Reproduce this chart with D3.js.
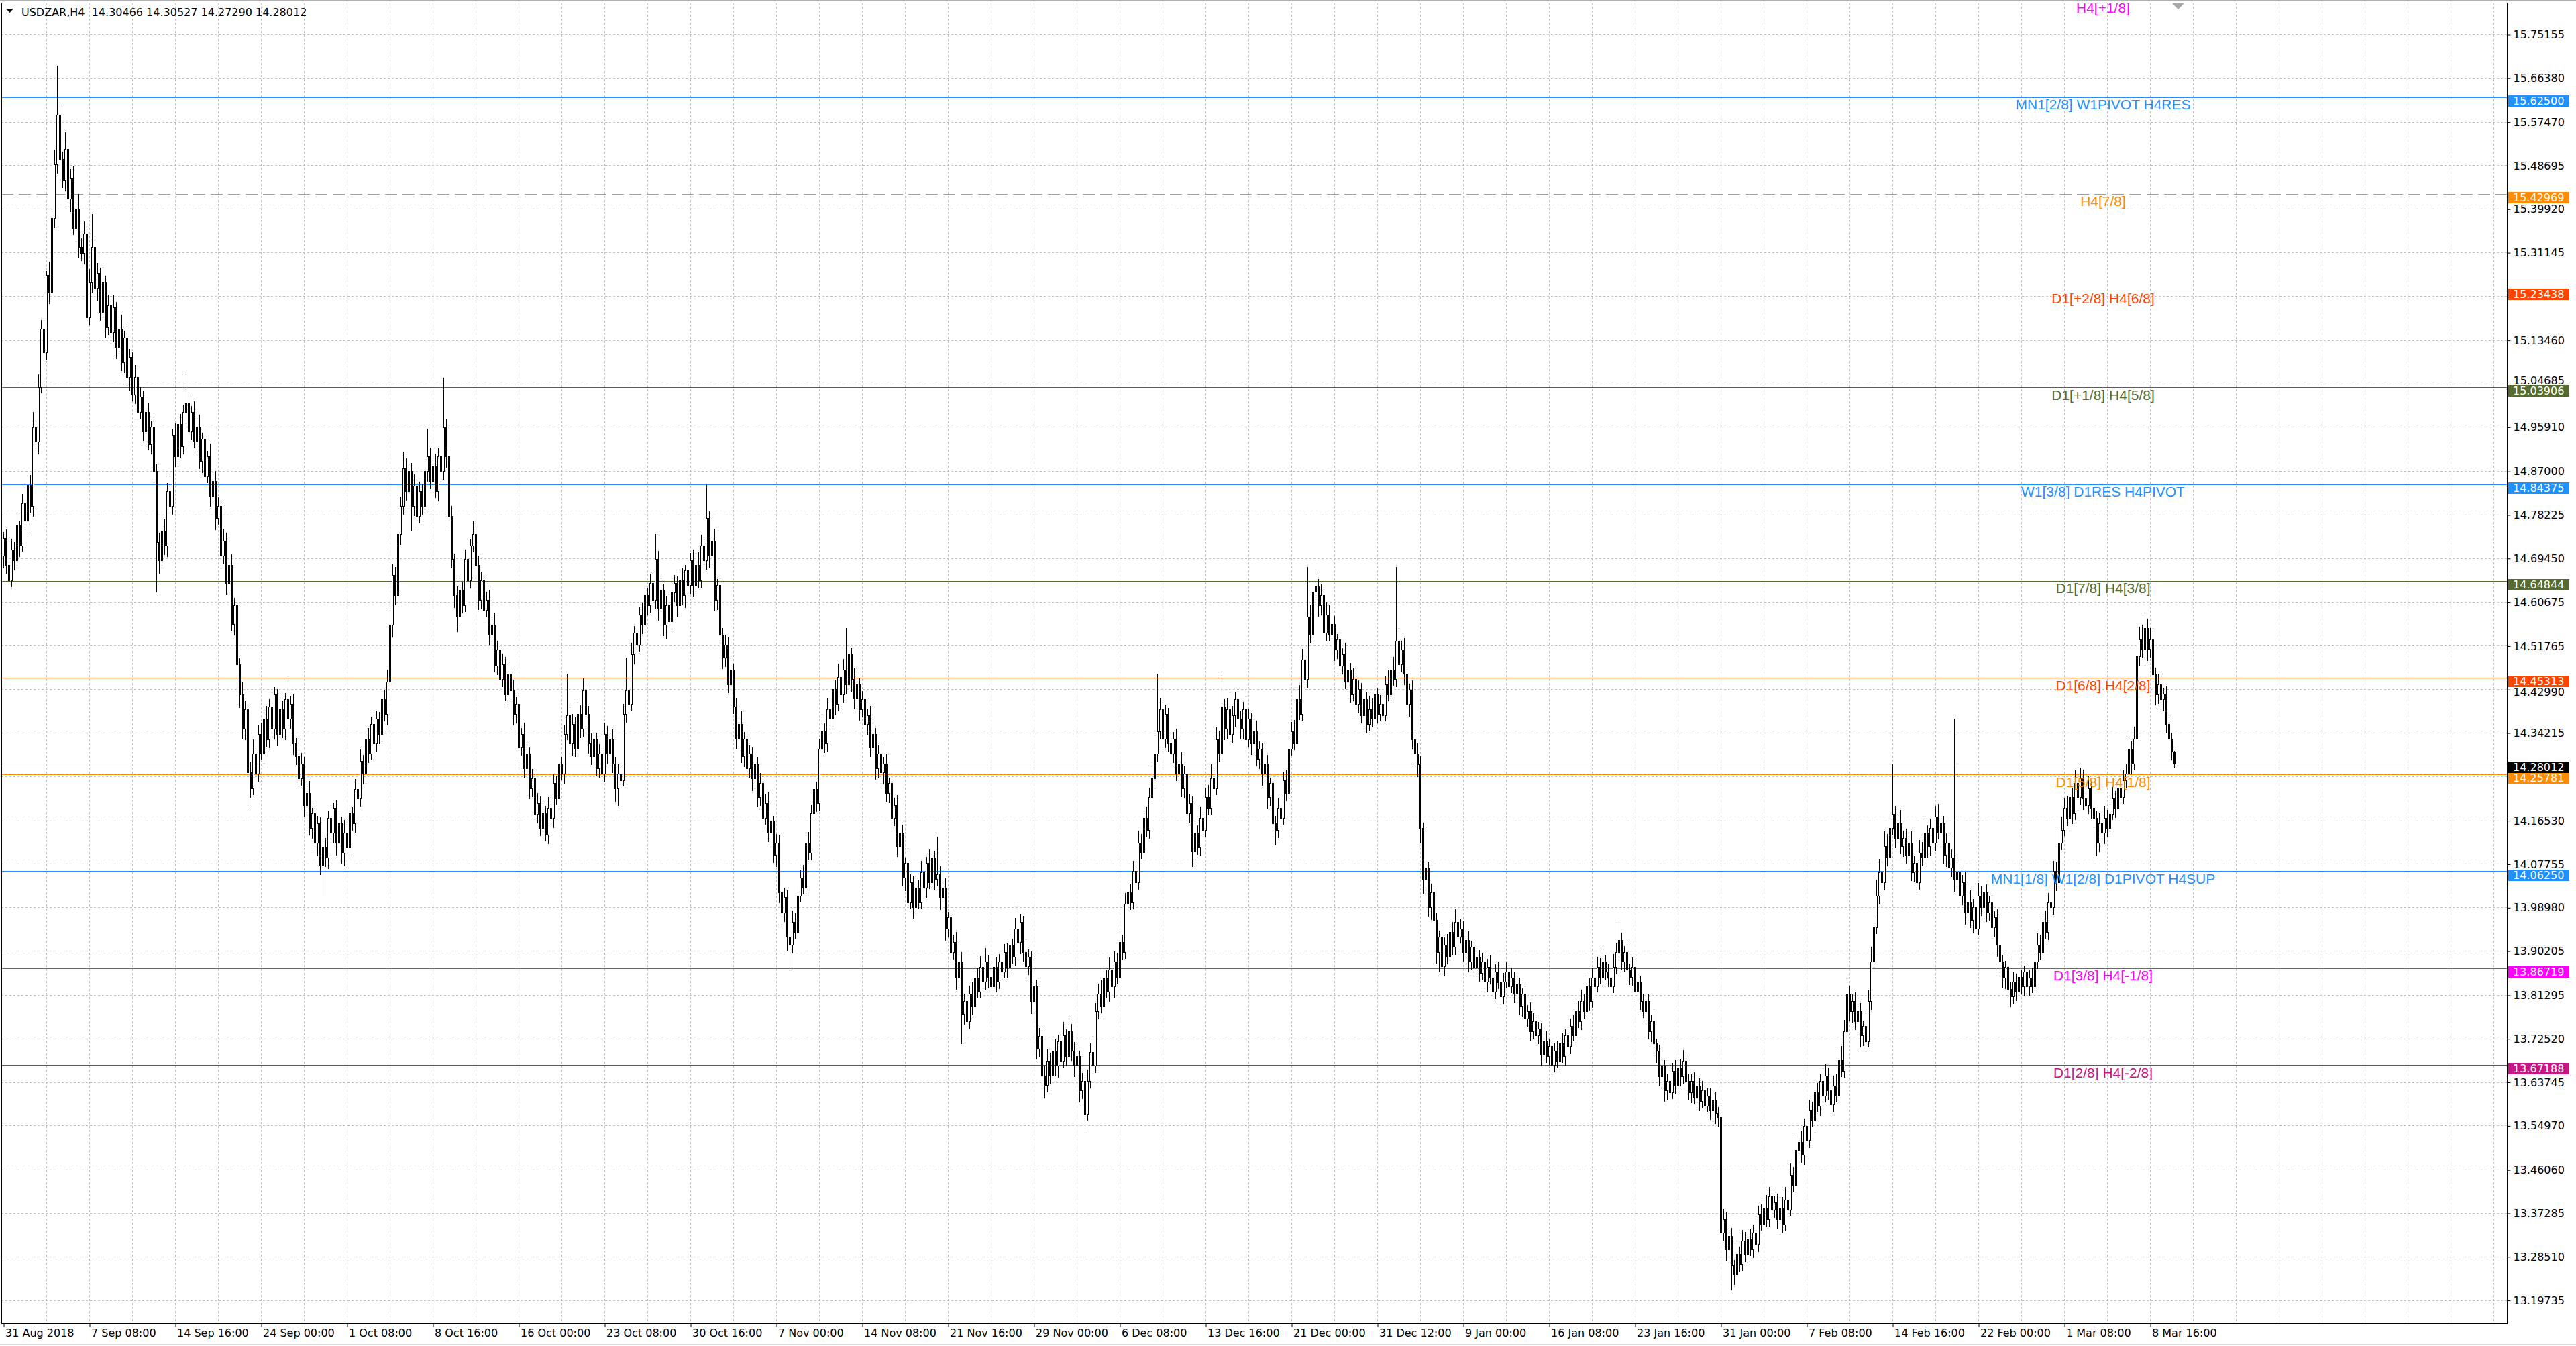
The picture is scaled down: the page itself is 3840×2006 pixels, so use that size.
<!DOCTYPE html>
<html><head><meta charset="utf-8">
<script src="https://cdn.jsdelivr.net/npm/d3@7"></script>
<style>html,body{margin:0;padding:0;background:#fff;overflow:hidden}svg{display:block}</style>
</head><body>
<script>
// ---------------- DATA ----------------
const chartTitle = "USDZAR,H4  14.30466 14.30527 14.27290 14.28012";
const firstOpen = 14.700;
// H4 closes, one per bar (open of each bar = previous close)
const closes = [
14.735,14.680,14.650,14.712,14.690,14.760,14.720,14.805,14.770,14.842,
14.800,14.958,14.930,15.040,15.157,15.110,15.265,15.230,15.380,15.489,
15.589,15.500,15.456,15.520,15.420,15.460,15.360,15.400,15.323,15.310,
15.350,15.180,15.250,15.323,15.240,15.270,15.191,15.250,15.160,15.205,
15.150,15.200,15.120,15.157,15.090,15.140,15.060,15.100,15.025,15.060,
14.990,15.020,14.950,14.990,14.925,14.960,14.870,14.727,14.690,14.750,
14.720,14.830,14.800,14.942,14.900,14.965,14.920,14.990,15.008,14.950,
14.990,14.930,14.960,14.890,14.935,14.860,14.900,14.820,14.850,14.776,
14.800,14.700,14.730,14.644,14.680,14.561,14.600,14.480,14.420,14.350,
14.390,14.262,14.230,14.300,14.260,14.340,14.300,14.370,14.329,14.395,
14.350,14.420,14.340,14.390,14.350,14.410,14.370,14.400,14.320,14.295,
14.250,14.280,14.196,14.220,14.150,14.180,14.120,14.160,14.075,14.110,
14.090,14.170,14.140,14.190,14.120,14.160,14.100,14.140,14.110,14.180,
14.160,14.229,14.210,14.285,14.260,14.330,14.300,14.360,14.320,14.370,
14.340,14.410,14.380,14.445,14.560,14.660,14.620,14.743,14.800,14.876,
14.830,14.870,14.800,14.840,14.780,14.830,14.800,14.870,14.900,14.850,
14.880,14.830,14.900,14.870,14.958,14.900,14.780,14.693,14.620,14.577,
14.630,14.600,14.693,14.650,14.720,14.743,14.680,14.610,14.650,14.590,
14.610,14.540,14.560,14.478,14.510,14.450,14.480,14.420,14.460,14.428,
14.380,14.400,14.312,14.340,14.270,14.300,14.230,14.250,14.179,14.200,
14.150,14.180,14.136,14.190,14.170,14.240,14.210,14.279,14.260,14.340,
14.378,14.320,14.360,14.310,14.380,14.350,14.428,14.380,14.320,14.295,
14.330,14.270,14.300,14.260,14.340,14.300,14.329,14.280,14.230,14.260,
14.246,14.380,14.428,14.400,14.500,14.544,14.520,14.580,14.560,14.620,
14.600,14.644,14.610,14.693,14.594,14.630,14.560,14.600,14.567,14.625,
14.644,14.600,14.650,14.620,14.670,14.640,14.690,14.640,14.680,14.650,
14.720,14.690,14.776,14.700,14.730,14.610,14.640,14.540,14.494,14.520,
14.440,14.470,14.395,14.330,14.360,14.295,14.330,14.270,14.300,14.250,
14.279,14.212,14.240,14.170,14.200,14.140,14.163,14.096,14.120,14.020,
13.980,14.010,13.930,13.914,13.960,13.940,14.013,14.050,14.030,14.120,
14.100,14.180,14.229,14.200,14.310,14.345,14.320,14.390,14.370,14.430,
14.400,14.455,14.420,14.470,14.440,14.500,14.450,14.411,14.440,14.390,
14.410,14.360,14.378,14.312,14.340,14.270,14.300,14.262,14.280,14.220,
14.240,14.170,14.196,14.113,14.140,14.050,14.080,14.000,14.040,13.990,
14.030,14.000,14.060,14.030,14.080,14.040,14.090,14.047,14.057,14.010,
14.030,13.947,13.970,13.900,13.920,13.850,13.881,13.775,13.800,13.760,
13.815,13.790,13.848,13.820,13.870,13.840,13.881,13.850,13.831,13.870,
13.840,13.881,13.860,13.900,13.870,13.914,13.890,13.947,13.920,13.960,
13.900,13.871,13.890,13.800,13.830,13.705,13.730,13.650,13.632,13.680,
13.650,13.700,13.670,13.720,13.680,13.732,13.690,13.740,13.700,13.670,
13.690,13.620,13.639,13.573,13.640,13.698,13.670,13.780,13.815,13.790,
13.848,13.820,13.864,13.830,13.881,13.850,13.920,13.900,13.997,14.020,
14.000,14.063,14.040,14.120,14.100,14.170,14.146,14.212,14.250,14.300,
14.345,14.390,14.330,14.380,14.320,14.300,14.330,14.260,14.279,14.230,
14.260,14.180,14.200,14.103,14.140,14.110,14.170,14.146,14.212,14.190,
14.250,14.230,14.329,14.300,14.395,14.350,14.390,14.340,14.378,14.410,
14.370,14.350,14.390,14.329,14.370,14.320,14.345,14.290,14.310,14.260,
14.280,14.212,14.240,14.160,14.146,14.190,14.170,14.246,14.220,14.310,
14.345,14.320,14.410,14.380,14.490,14.450,14.577,14.540,14.627,14.637,
14.600,14.620,14.544,14.580,14.540,14.561,14.510,14.530,14.478,14.500,
14.445,14.470,14.420,14.450,14.400,14.430,14.378,14.410,14.360,14.390,
14.370,14.420,14.380,14.400,14.378,14.440,14.420,14.470,14.450,14.527,
14.480,14.510,14.461,14.400,14.429,14.329,14.300,14.279,14.150,14.047,
14.070,13.990,14.020,13.964,13.900,13.930,13.871,13.914,13.890,13.940,
13.910,13.960,13.930,13.947,13.900,13.924,13.881,13.910,13.870,13.890,
13.858,13.880,13.840,13.870,13.848,13.820,13.860,13.838,13.810,13.840,
13.860,13.831,13.848,13.815,13.835,13.790,13.815,13.765,13.780,13.740,
13.760,13.732,13.745,13.692,13.720,13.690,13.710,13.672,13.700,13.680,
13.715,13.690,13.732,13.710,13.750,13.732,13.781,13.760,13.800,13.780,
13.831,13.800,13.848,13.830,13.870,13.850,13.881,13.860,13.848,13.830,
13.870,13.900,13.924,13.880,13.900,13.864,13.850,13.870,13.821,13.840,
13.800,13.781,13.800,13.740,13.760,13.715,13.700,13.649,13.670,13.620,
13.640,13.616,13.660,13.630,13.665,13.649,13.680,13.640,13.616,13.640,
13.606,13.630,13.599,13.620,13.590,13.610,13.580,13.600,13.575,13.566,
13.334,13.360,13.300,13.327,13.267,13.250,13.290,13.270,13.317,13.290,
13.320,13.300,13.334,13.310,13.370,13.350,13.384,13.360,13.407,13.380,
13.395,13.360,13.384,13.350,13.400,13.380,13.450,13.430,13.500,13.516,
13.490,13.549,13.520,13.580,13.560,13.616,13.590,13.640,13.610,13.650,
13.620,13.592,13.630,13.610,13.682,13.660,13.740,13.815,13.780,13.800,
13.760,13.781,13.732,13.750,13.720,13.800,13.881,13.950,14.013,14.060,
14.040,14.113,14.090,14.150,14.179,14.130,14.160,14.113,14.130,14.096,
14.120,14.060,14.080,14.040,14.100,14.090,14.140,14.113,14.150,14.120,
14.173,14.140,14.160,14.096,14.120,14.070,14.090,14.047,14.060,14.013,
14.040,13.980,14.000,13.964,13.990,13.947,14.013,13.990,14.020,13.980,
14.000,13.950,13.970,13.914,13.880,13.848,13.870,13.825,13.810,13.840,
13.820,13.850,13.831,13.860,13.830,13.848,13.830,13.880,13.914,13.900,
13.960,13.940,14.000,13.990,14.063,14.040,14.120,14.146,14.190,14.170,
14.212,14.180,14.240,14.212,14.250,14.210,14.196,14.230,14.190,14.170,
14.120,14.160,14.140,14.170,14.150,14.179,14.210,14.190,14.230,14.212,
14.246,14.260,14.310,14.280,14.330,14.497,14.530,14.510,14.554,14.511,
14.530,14.460,14.420,14.440,14.410,14.421,14.360,14.330,14.30466,14.28012
];
// distance from body top to the high, per bar
const upperWicks = [
0.012,0.018,0.009,0.022,0.015,0.028,0.010,0.019,0.035,0.014,
0.020,0.031,0.012,0.025,0.018,0.022,0.009,0.027,0.016,0.030,
0.099,0.021,0.015,0.034,0.011,0.019,0.026,0.013,0.030,0.017,
0.024,0.012,0.028,0.066,0.015,0.020,0.010,0.032,0.014,0.021,
0.018,0.025,0.011,0.016,0.029,0.013,0.022,0.017,0.010,0.024,
0.015,0.020,0.012,0.026,0.018,0.010,0.021,0.014,0.019,0.027,
0.023,0.016,0.030,0.012,0.025,0.018,0.020,0.014,0.057,0.016,
0.012,0.021,0.017,0.024,0.013,0.019,0.011,0.026,0.015,0.020,
0.018,0.012,0.024,0.016,0.010,0.022,0.014,0.019,0.013,0.025,
0.017,0.011,0.020,0.028,0.014,0.018,0.023,0.012,0.026,0.015,
0.021,0.014,0.010,0.024,0.017,0.012,0.043,0.015,0.019,0.011,
0.016,0.022,0.013,0.018,0.025,0.010,0.020,0.014,0.012,0.027,
0.019,0.015,0.023,0.011,0.017,0.021,0.013,0.026,0.018,0.014,
0.012,0.020,0.016,0.024,0.013,0.019,0.022,0.015,0.028,0.017,
0.014,0.021,0.018,0.025,0.030,0.022,0.016,0.027,0.019,0.033,
0.020,0.013,0.017,0.024,0.011,0.019,0.015,0.022,0.056,0.018,
0.012,0.025,0.016,0.021,0.100,0.018,0.014,0.020,0.011,0.017,
0.023,0.015,0.019,0.028,0.012,0.026,0.014,0.020,0.017,0.011,
0.016,0.021,0.013,0.024,0.018,0.010,0.022,0.015,0.019,0.012,
0.020,0.014,0.017,0.011,0.023,0.016,0.012,0.019,0.014,0.021,
0.013,0.018,0.015,0.022,0.012,0.020,0.016,0.024,0.014,0.019,
0.083,0.015,0.020,0.013,0.027,0.018,0.024,0.012,0.016,0.021,
0.017,0.012,0.019,0.014,0.022,0.016,0.011,0.020,0.013,0.018,
0.015,0.021,0.066,0.017,0.024,0.013,0.020,0.016,0.025,0.018,
0.014,0.019,0.022,0.050,0.016,0.023,0.012,0.018,0.021,0.015,
0.017,0.013,0.020,0.024,0.011,0.019,0.015,0.022,0.018,0.026,
0.021,0.016,0.066,0.013,0.019,0.024,0.012,0.017,0.014,0.020,
0.015,0.022,0.011,0.018,0.016,0.025,0.013,0.020,0.017,0.012,
0.019,0.014,0.021,0.012,0.017,0.023,0.015,0.011,0.018,0.016,
0.013,0.020,0.016,0.012,0.024,0.018,0.021,0.015,0.026,0.019,
0.022,0.017,0.025,0.014,0.020,0.028,0.016,0.021,0.013,0.024,
0.018,0.026,0.015,0.021,0.083,0.019,0.014,0.022,0.017,0.012,
0.016,0.020,0.013,0.018,0.024,0.011,0.017,0.021,0.014,0.019,
0.012,0.018,0.015,0.020,0.013,0.017,0.011,0.022,0.016,0.014,
0.021,0.015,0.024,0.018,0.012,0.026,0.019,0.014,0.076,0.016,
0.013,0.019,0.011,0.017,0.014,0.020,0.012,0.018,0.015,0.022,
0.017,0.024,0.013,0.019,0.021,0.015,0.026,0.012,0.018,0.014,
0.020,0.014,0.022,0.016,0.019,0.025,0.013,0.021,0.050,0.017,
0.012,0.018,0.015,0.011,0.020,0.014,0.017,0.013,0.019,0.023,
0.016,0.021,0.025,0.013,0.019,0.027,0.012,0.024,0.015,0.018,
0.014,0.011,0.017,0.013,0.022,0.018,0.025,0.016,0.021,0.028,
0.019,0.015,0.024,0.012,0.020,0.017,0.026,0.014,0.022,0.018,
0.016,0.021,0.013,0.025,0.018,0.014,0.023,0.019,0.027,0.030,
0.116,0.022,0.015,0.019,0.012,0.017,0.014,0.020,0.011,0.024,
0.015,0.012,0.018,0.014,0.021,0.016,0.023,0.013,0.019,0.025,
0.028,0.020,0.024,0.017,0.066,0.015,0.021,0.026,0.018,0.013,
0.022,0.016,0.014,0.025,0.019,0.012,0.017,0.021,0.015,0.011,
0.013,0.018,0.012,0.016,0.014,0.020,0.024,0.017,0.022,0.026,
0.019,0.023,0.017,0.028,0.021,0.030,0.100,0.024,0.018,0.030,
0.015,0.021,0.012,0.026,0.019,0.014,0.017,0.011,0.020,0.013,
0.024,0.016,0.013,0.022,0.015,0.018,0.012,0.020,0.014,0.027,
0.021,0.015,0.011,0.018,0.024,0.016,0.028,0.019,0.025,0.150,
0.020,0.017,0.023,0.014,0.012,0.019,0.015,0.021,0.016,0.011,
0.014,0.012,0.018,0.010,0.016,0.013,0.025,0.015,0.022,0.017,
0.020,0.026,0.013,0.019,0.015,0.011,0.017,0.012,0.014,0.021,
0.013,0.018,0.012,0.016,0.023,0.011,0.015,0.020,0.012,0.017,
0.019,0.014,0.021,0.012,0.016,0.013,0.011,0.015,0.012,0.018,
0.016,0.012,0.014,0.011,0.017,0.020,0.013,0.010,0.015,0.019,
0.013,0.021,0.012,0.018,0.015,0.022,0.016,0.019,0.024,0.014,
0.022,0.015,0.019,0.013,0.020,0.017,0.024,0.012,0.016,0.014,
0.025,0.018,0.040,0.015,0.012,0.016,0.013,0.019,0.011,0.014,
0.012,0.016,0.011,0.014,0.013,0.017,0.010,0.012,0.015,0.011,
0.014,0.019,0.016,0.021,0.013,0.018,0.022,0.012,0.015,0.013,
0.017,0.012,0.015,0.020,0.011,0.014,0.016,0.013,0.018,0.012,
0.025,0.021,0.014,0.012,0.016,0.011,0.019,0.015,0.022,0.018,
0.013,0.020,0.016,0.024,0.018,0.021,0.014,0.026,0.019,0.015,
0.012,0.017,0.014,0.021,0.025,0.018,0.023,0.016,0.027,0.020,
0.024,0.015,0.019,0.022,0.017,0.026,0.020,0.013,0.018,0.024,
0.016,0.012,0.021,0.025,0.019,0.028,0.023,0.031,0.017,0.014,
0.018,0.013,0.016,0.011,0.026,0.022,0.029,0.024,0.033,0.027,
0.021,0.030,0.025,0.018,0.100,0.016,0.022,0.027,0.014,0.019,
0.017,0.023,0.013,0.020,0.026,0.021,0.028,0.015,0.019,0.024,
0.022,0.026,0.017,0.014,0.019,0.013,0.016,0.280,0.018,0.012,
0.015,0.020,0.013,0.024,0.017,0.011,0.026,0.019,0.014,0.016,
0.013,0.018,0.012,0.016,0.011,0.014,0.012,0.017,0.013,0.020,
0.016,0.022,0.014,0.012,0.019,0.015,0.021,0.018,0.024,0.020,
0.017,0.023,0.019,0.026,0.021,0.018,0.024,0.027,0.020,0.025,
0.030,0.019,0.026,0.033,0.022,0.018,0.015,0.024,0.013,0.017,
0.015,0.021,0.018,0.024,0.016,0.020,0.023,0.014,0.019,0.026,
0.021,0.018,0.026,0.015,0.024,0.033,0.026,0.030,0.022,0.018,
0.024,0.016,0.013,0.021,0.017,0.012,0.014,0.011,0.012,0.0006
];
// distance from body bottom to the low, per bar
const lowerWicks = [
0.025,0.015,0.030,0.012,0.019,0.014,0.022,0.011,0.017,0.026,
0.013,0.020,0.016,0.024,0.012,0.018,0.015,0.021,0.014,0.019,
0.017,0.024,0.013,0.020,0.015,0.026,0.012,0.018,0.021,0.014,
0.022,0.035,0.014,0.019,0.012,0.024,0.016,0.011,0.020,0.015,
0.014,0.019,0.023,0.012,0.017,0.021,0.015,0.026,0.013,0.018,
0.020,0.013,0.017,0.024,0.011,0.019,0.016,0.100,0.025,0.014,
0.018,0.022,0.012,0.016,0.020,0.014,0.023,0.015,0.017,0.021,
0.016,0.012,0.019,0.014,0.022,0.017,0.013,0.020,0.015,0.024,
0.013,0.020,0.015,0.023,0.017,0.012,0.021,0.014,0.026,0.018,
0.022,0.066,0.018,0.013,0.020,0.015,0.011,0.019,0.014,0.016,
0.015,0.020,0.024,0.012,0.017,0.022,0.013,0.018,0.021,0.016,
0.019,0.013,0.022,0.017,0.014,0.020,0.012,0.025,0.018,0.062,
0.017,0.021,0.013,0.019,0.024,0.015,0.020,0.026,0.012,0.016,
0.014,0.018,0.012,0.016,0.021,0.013,0.017,0.011,0.019,0.015,
0.020,0.015,0.013,0.022,0.017,0.024,0.019,0.014,0.021,0.016,
0.018,0.026,0.050,0.019,0.023,0.014,0.017,0.012,0.020,0.015,
0.016,0.012,0.019,0.014,0.017,0.022,0.026,0.018,0.024,0.030,
0.021,0.016,0.013,0.020,0.015,0.012,0.024,0.019,0.017,0.022,
0.014,0.020,0.017,0.012,0.018,0.023,0.015,0.011,0.019,0.016,
0.022,0.017,0.025,0.014,0.019,0.013,0.020,0.016,0.012,0.018,
0.015,0.023,0.012,0.017,0.014,0.019,0.011,0.016,0.013,0.020,
0.012,0.018,0.022,0.015,0.013,0.017,0.014,0.021,0.019,0.016,
0.019,0.014,0.017,0.012,0.016,0.020,0.023,0.018,0.026,0.034,
0.013,0.011,0.016,0.014,0.012,0.018,0.015,0.013,0.017,0.012,
0.020,0.014,0.012,0.016,0.025,0.018,0.022,0.027,0.015,0.013,
0.017,0.022,0.014,0.019,0.024,0.013,0.018,0.021,0.012,0.016,
0.014,0.012,0.018,0.024,0.017,0.021,0.019,0.015,0.022,0.018,
0.016,0.020,0.014,0.019,0.023,0.012,0.021,0.016,0.018,0.024,
0.013,0.019,0.016,0.022,0.012,0.017,0.020,0.015,0.023,0.021,
0.024,0.018,0.026,0.050,0.016,0.012,0.014,0.011,0.013,0.015,
0.012,0.014,0.011,0.016,0.013,0.012,0.017,0.014,0.015,0.018,
0.021,0.013,0.019,0.015,0.018,0.012,0.024,0.020,0.016,0.022,
0.015,0.019,0.022,0.017,0.013,0.021,0.018,0.014,0.023,0.016,
0.017,0.021,0.014,0.020,0.024,0.016,0.026,0.018,0.012,0.022,
0.016,0.013,0.011,0.018,0.020,0.012,0.015,0.021,0.014,0.024,
0.019,0.023,0.016,0.021,0.014,0.025,0.018,0.060,0.020,0.013,
0.014,0.017,0.021,0.013,0.012,0.019,0.015,0.022,0.018,0.016,
0.020,0.013,0.016,0.011,0.021,0.014,0.012,0.018,0.015,0.023,
0.018,0.022,0.016,0.024,0.019,0.021,0.017,0.023,0.026,0.014,
0.016,0.012,0.018,0.022,0.014,0.013,0.020,0.015,0.019,0.021,
0.018,0.023,0.016,0.033,0.012,0.014,0.011,0.013,0.015,0.012,
0.017,0.013,0.020,0.015,0.022,0.014,0.012,0.016,0.013,0.015,
0.014,0.012,0.016,0.013,0.011,0.015,0.013,0.017,0.012,0.014,
0.016,0.013,0.021,0.018,0.015,0.022,0.017,0.014,0.020,0.016,
0.019,0.024,0.018,0.030,0.016,0.013,0.015,0.012,0.014,0.013,
0.012,0.015,0.013,0.016,0.014,0.021,0.019,0.015,0.017,0.022,
0.016,0.020,0.018,0.013,0.015,0.021,0.017,0.014,0.019,0.023,
0.018,0.022,0.016,0.024,0.030,0.015,0.013,0.012,0.014,0.011,
0.013,0.012,0.015,0.011,0.014,0.013,0.016,0.017,0.012,0.015,
0.022,0.019,0.024,0.015,0.013,0.018,0.021,0.017,0.020,0.016,
0.014,0.019,0.016,0.013,0.021,0.017,0.015,0.020,0.018,0.012,
0.015,0.020,0.017,0.012,0.014,0.011,0.013,0.016,0.012,0.015,
0.018,0.014,0.021,0.026,0.024,0.019,0.022,0.025,0.030,0.028,
0.020,0.018,0.024,0.016,0.022,0.040,0.015,0.019,0.013,0.017,
0.016,0.014,0.019,0.012,0.018,0.015,0.021,0.017,0.014,0.013,
0.017,0.013,0.016,0.020,0.012,0.018,0.014,0.011,0.019,0.015,
0.012,0.015,0.013,0.017,0.014,0.016,0.019,0.013,0.015,0.018,
0.014,0.018,0.016,0.021,0.013,0.012,0.017,0.023,0.014,0.012,
0.016,0.012,0.018,0.013,0.015,0.011,0.014,0.012,0.016,0.013,
0.013,0.017,0.012,0.015,0.011,0.014,0.012,0.016,0.018,0.014,
0.012,0.014,0.011,0.016,0.018,0.020,0.015,0.017,0.019,0.014,
0.016,0.013,0.018,0.015,0.020,0.017,0.022,0.019,0.016,0.021,
0.018,0.014,0.012,0.016,0.013,0.019,0.015,0.017,0.014,0.020,
0.013,0.016,0.019,0.014,0.017,0.012,0.018,0.015,0.021,0.019,
0.020,0.016,0.023,0.026,0.049,0.021,0.017,0.014,0.012,0.015,
0.018,0.013,0.016,0.012,0.015,0.011,0.019,0.014,0.013,0.017,
0.015,0.019,0.022,0.016,0.012,0.014,0.011,0.013,0.015,0.012,
0.014,0.018,0.012,0.015,0.013,0.016,0.011,0.019,0.014,0.012,
0.017,0.022,0.015,0.012,0.014,0.011,0.013,0.012,0.018,0.021,
0.016,0.019,0.023,0.021,0.014,0.012,0.015,0.011,0.013,0.016,
0.018,0.014,0.016,0.021,0.013,0.019,0.024,0.015,0.020,0.017,
0.022,0.015,0.019,0.024,0.013,0.016,0.014,0.021,0.017,0.013,
0.015,0.012,0.020,0.018,0.023,0.021,0.017,0.024,0.019,0.022,
0.018,0.023,0.020,0.014,0.025,0.019,0.013,0.016,0.021,0.018,
0.016,0.020,0.018,0.022,0.024,0.019,0.021,0.017,0.020,0.014,
0.018,0.013,0.016,0.020,0.014,0.017,0.012,0.011,0.013,0.015,
0.014,0.012,0.015,0.011,0.013,0.016,0.012,0.014,0.011,0.015,
0.017,0.021,0.013,0.019,0.015,0.022,0.024,0.016,0.020,0.023,
0.026,0.018,0.015,0.021,0.016,0.013,0.012,0.019,0.014,0.013,
0.012,0.015,0.013,0.021,0.012,0.014,0.018,0.015,0.024,0.022,
0.016,0.025,0.021,0.018,0.020,0.023,0.017,0.019,0.016,0.00722
];
// time axis labels (one every 32 H4 bars)
const timeLabels = ["31 Aug 2018","7 Sep 08:00","14 Sep 16:00","24 Sep 00:00","1 Oct 08:00","8 Oct 16:00",
"16 Oct 00:00","23 Oct 08:00","30 Oct 16:00","7 Nov 00:00","14 Nov 08:00","21 Nov 16:00","29 Nov 00:00",
"6 Dec 08:00","13 Dec 16:00","21 Dec 00:00","31 Dec 12:00","9 Jan 00:00","16 Jan 08:00","23 Jan 16:00",
"31 Jan 00:00","7 Feb 08:00","14 Feb 16:00","22 Feb 00:00","1 Mar 08:00","8 Mar 16:00"];
// price axis ticks
const priceTicks = [15.75155,15.66380,15.57470,15.48695,15.39920,15.31145,15.22370,15.13460,15.04685,14.95910,
14.87000,14.78225,14.69450,14.60675,14.51765,14.42990,14.34215,14.25440,14.16530,14.07755,13.98980,13.90205,
13.81295,13.72520,13.63745,13.54970,13.46060,13.37285,13.28510,13.19735];
const hiddenTickLabels = [15.22370, 14.25440];
// Murrey-math / pivot levels
const levelPrices = [15.82031,15.62500,15.42969,15.23438,15.03906,14.84375,14.64844,14.45313,14.25781,14.06250,13.86719,13.67188];
const levelNames = ["H4[+1/8]","MN1[2/8] W1PIVOT H4RES","H4[7/8]","D1[+2/8] H4[6/8]","D1[+1/8] H4[5/8]",
"W1[3/8] D1RES H4PIVOT","D1[7/8] H4[3/8]","D1[6/8] H4[2/8]","D1[5/8] H4[1/8]","MN1[1/8] W1[2/8] D1PIVOT H4SUP",
"D1[3/8] H4[-1/8]","D1[2/8] H4[-2/8]"];
const levelColors = ["#FF00FF","#1E90FF","#FF8C00","#FF4500","#556B2F","#1E90FF","#556B2F","#FF4500","#FF8C00","#1E90FF","#FF00FF","#C71585"];
const levelWidths = [1,2,1,1,1,1,1,1,1,2,1,1];
const levelDashed = [false,false,true,false,false,false,false,false,false,false,false,false];
const lastPrice = 14.28012;

// ---------------- DRAW ----------------
const W = 3840, H = 2006;
const plot = {l: 2, t: 4, r: 3737, b: 1972};
const FONT = "'DejaVu Sans', Verdana, sans-serif";
const opens = closes.map((c, i) => i === 0 ? firstOpen : closes[i - 1]);
const highs = closes.map((c, i) => Math.max(opens[i], c) + upperWicks[i]);
const lows = closes.map((c, i) => Math.min(opens[i], c) - lowerWicks[i]);

const x = d3.scaleLinear().domain([0, 800]).range([5, 3205]);
const y = d3.scaleLinear().domain([15.625, 13.67188]).range([144.5, 1587.1]);
const py = v => Math.round(y(v)) + 0.5;

const svg = d3.select("body").append("svg").attr("width", W).attr("height", H);
svg.append("rect").attr("width", W).attr("height", H).attr("fill", "#fff");
svg.append("rect").attr("x", 0).attr("y", 0).attr("width", W).attr("height", 2).attr("fill", "#b0b0b0");
svg.append("line").attr("x1", 0).attr("x2", W).attr("y1", 2003.5).attr("y2", 2003.5).attr("stroke", "#d8d8d8");

svg.append("defs").append("clipPath").attr("id", "pc").append("rect")
  .attr("x", plot.l).attr("y", plot.t).attr("width", plot.r - plot.l).attr("height", plot.b - plot.t);
const g = svg.append("g").attr("clip-path", "url(#pc)").attr("shape-rendering", "crispEdges");

// grid
g.selectAll("line.hg").data(priceTicks).join("line").attr("class", "hg")
  .attr("x1", plot.l).attr("x2", plot.r).attr("y1", d => py(d)).attr("y2", d => py(d))
  .attr("stroke", "#c0c0c0").attr("stroke-dasharray", "3,3");
const vIdx = d3.range(16, 1000, 16).filter(i => x(i) < plot.r);
g.selectAll("line.vg").data(vIdx).join("line").attr("class", "vg")
  .attr("x1", d => Math.round(x(d)) + 0.5).attr("x2", d => Math.round(x(d)) + 0.5)
  .attr("y1", plot.t).attr("y2", plot.b)
  .attr("stroke", "#c0c0c0").attr("stroke-dasharray", "3,3");

// level lines
levelPrices.forEach((p, k) => {
  const yy = levelWidths[k] === 2 ? Math.round(y(p)) : py(p);
  g.append("line").attr("x1", plot.l).attr("x2", plot.r).attr("y1", yy).attr("y2", yy)
    .attr("stroke", levelColors[k]).attr("stroke-width", levelWidths[k])
    .attr("stroke-dasharray", levelDashed[k] ? "18,8" : null);
});
// last price line
g.append("line").attr("x1", plot.l).attr("x2", plot.r).attr("y1", py(lastPrice)).attr("y2", py(lastPrice))
  .attr("stroke", "#c0c0c0");

// candles
const idx = d3.range(closes.length);
const cg = g.append("g");
cg.selectAll("line.wick").data(idx).join("line").attr("class", "wick")
  .attr("x1", i => Math.round(x(i)) + 0.5).attr("x2", i => Math.round(x(i)) + 0.5)
  .attr("y1", i => Math.round(y(highs[i]))).attr("y2", i => Math.round(y(lows[i])) + 1)
  .attr("stroke", "#000");
cg.selectAll("rect.body").data(idx).join("rect").attr("class", "body")
  .attr("x", i => Math.round(x(i)) - 1)
  .attr("y", i => Math.round(y(Math.max(opens[i], closes[i]))))
  .attr("width", 3)
  .attr("height", i => Math.max(1, Math.round(y(Math.min(opens[i], closes[i]))) - Math.round(y(Math.max(opens[i], closes[i]))) + 1))
  .attr("fill", "#000");
cg.selectAll("rect.hollow").data(idx.filter(i => closes[i] > opens[i])).join("rect").attr("class", "hollow")
  .attr("x", i => Math.round(x(i)))
  .attr("y", i => Math.round(y(closes[i])) + 1)
  .attr("width", 1)
  .attr("height", i => Math.max(0, Math.round(y(opens[i])) - Math.round(y(closes[i])) - 1))
  .attr("fill", "#fff");

// level labels
const lg = svg.append("g").attr("clip-path", "url(#pc)");
levelPrices.forEach((p, k) => {
  lg.append("text").attr("x", 3135).attr("y", y(p) + 11)
    .attr("text-anchor", "middle").attr("dominant-baseline", "central")
    .attr("font-family", "'Liberation Sans', Arial, sans-serif").attr("font-size", 21)
    .attr("fill", levelColors[k]).text(levelNames[k]);
});

// frame
svg.append("rect").attr("x", plot.l + 0.5).attr("y", plot.t + 0.5)
  .attr("width", plot.r - plot.l).attr("height", plot.b - plot.t)
  .attr("fill", "none").attr("stroke", "#000");

// price boxes geometry (sit slightly below their line, as in the terminal)
const boxPrices = levelPrices.filter(p => y(p) > plot.t && y(p) < plot.b).concat([lastPrice]);
const boxColors = levelColors.filter((c, k) => y(levelPrices[k]) > plot.t && y(levelPrices[k]) < plot.b).concat(["#000"]);
const boxTop = p => Math.round(y(p)) - 3, BOX_H = 17;

// price axis
const yAxis = d3.axisRight(y).tickValues(priceTicks)
  .tickFormat(d => hiddenTickLabels.includes(d) ? "" : d3.format(".5f")(d))
  .tickSize(5).tickPadding(4);
const ya = svg.append("g").attr("transform", `translate(${plot.r + 0.5},0.5)`).call(yAxis)
  .attr("font-family", FONT).attr("font-size", 16);
ya.select(".domain").remove();
ya.selectAll("line").attr("stroke", "#000");
ya.selectAll("text").attr("fill", "#000");
// keep tick labels clear of the price boxes (nudge just outside a box)
ya.selectAll(".tick").each(function(d) {
  const ty = y(d) + 0.5;
  let shift = 0;
  boxPrices.forEach(p => {
    const t0 = boxTop(p), t1 = t0 + BOX_H;
    if (ty + 6 > t0 && ty - 6 < t1) {
      shift = (ty < (t0 + t1) / 2) ? (t0 - 1 - 6) - ty : (t1 + 1 + 6) - ty;
    }
  });
  d3.select(this).select("text").attr("y", shift);
});

// price boxes
const bg = svg.append("g");
boxPrices.forEach((p, k) => {
  const t0 = boxTop(p);
  bg.append("rect").attr("x", 3739).attr("y", t0).attr("width", 91).attr("height", BOX_H).attr("fill", boxColors[k]);
  bg.append("text").attr("x", 3746).attr("y", t0 + BOX_H / 2).attr("dy", "0.36em")
    .attr("font-family", FONT).attr("font-size", 16).attr("fill", "#fff").text(d3.format(".5f")(p));
});

// time axis
const xAxis = d3.axisBottom(x).tickValues(timeLabels.map((_, k) => k * 32))
  .tickFormat(d => timeLabels[d / 32]).tickSize(5).tickPadding(3);
const xa = svg.append("g").attr("transform", `translate(0.5,${plot.b + 0.5})`).call(xAxis)
  .attr("font-family", FONT).attr("font-size", 16);
xa.select(".domain").remove();
xa.selectAll("line").attr("stroke", "#000");
xa.selectAll("text").attr("text-anchor", "start").attr("x", 2).attr("fill", "#000");

// title
svg.append("path").attr("d", "M9,13 L20,13 L14.5,19 Z").attr("fill", "#000");
svg.append("text").attr("x", 32).attr("y", 18).attr("dominant-baseline", "central")
  .attr("font-family", FONT).attr("font-size", 16).attr("fill", "#000")
  .attr("xml:space", "preserve").style("white-space", "pre").text(chartTitle);

// chart-shift marker
svg.append("path").attr("d", "M3238,5 L3256,5 L3247,14 Z").attr("fill", "#a8a8a8");
</script>
</body></html>
